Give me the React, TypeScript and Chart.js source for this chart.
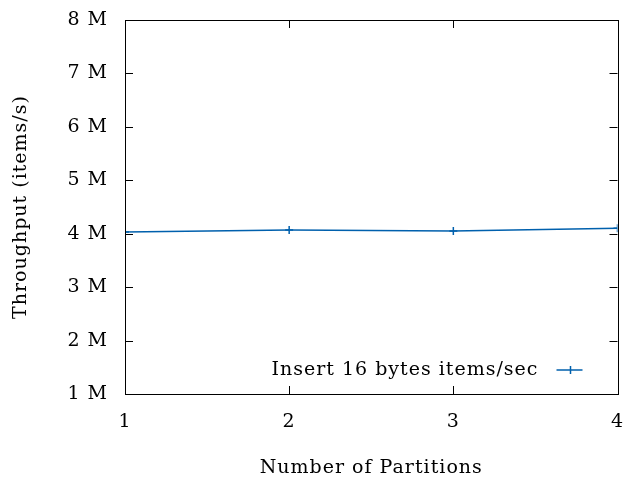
import React, { useEffect, useRef } from "react";
import { Chart, registerables } from "chart.js";

Chart.register(...registerables);

const partitions = [1, 2, 3, 4];
const throughput = [4.03e6, 4.07e6, 4.05e6, 4.1e6];
const yTickValues = [1e6, 2e6, 3e6, 4e6, 5e6, 6e6, 7e6, 8e6];
const yTickLabels = ["1 M", "2 M", "3 M", "4 M", "5 M", "6 M", "7 M", "8 M"];
const xTickValues = [1, 2, 3, 4];
const seriesLabel = "Insert 16 bytes items/sec";
const xTitle = "Number of Partitions";
const yTitle = "Throughput (items/s)";

const FONT = "'DejaVu Serif', 'Liberation Serif', serif";
const FONT_SIZE = 19;
const LETTER_SPACING = "1px";
const COLOR = "#0060ad";

const spacingPlugin = {
  id: "spacing",
  beforeInit(chart: any) {
    chart.ctx.letterSpacing = LETTER_SPACING;
  },
  beforeUpdate(chart: any) {
    chart.ctx.letterSpacing = LETTER_SPACING;
  },
  beforeDraw(chart: any) {
    chart.ctx.letterSpacing = LETTER_SPACING;
  },
};

const framePlugin = {
  id: "gnuframe",
  afterDraw(chart: any) {
    const { ctx, chartArea } = chart;
    const { left, right, top, bottom } = chartArea;
    const xs = chart.scales.x;
    const ys = chart.scales.y;
    ctx.save();
    ctx.strokeStyle = "#000";
    ctx.lineWidth = 1;
    ctx.beginPath();
    const L = 8;
    yTickValues.forEach((v) => {
      const py = Math.round(ys.getPixelForValue(v)) + 0.5;
      ctx.moveTo(left, py);
      ctx.lineTo(left + L, py);
      ctx.moveTo(right, py);
      ctx.lineTo(right - L, py);
    });
    xTickValues.forEach((v) => {
      const px = Math.round(xs.getPixelForValue(v)) + 0.5;
      ctx.moveTo(px, bottom);
      ctx.lineTo(px, bottom - L);
      ctx.moveTo(px, top);
      ctx.lineTo(px, top + L);
    });
    ctx.stroke();
    ctx.strokeRect(Math.round(left) + 0.5, Math.round(top) + 0.5, Math.round(right - left), Math.round(bottom - top));
    // legend
    ctx.letterSpacing = LETTER_SPACING;
    ctx.font = FONT_SIZE + "px " + FONT;
    ctx.fillStyle = "#000";
    ctx.textAlign = "right";
    ctx.textBaseline = "middle";
    const ly = bottom - 24;
    ctx.fillText(seriesLabel, right - 79, ly);
    ctx.strokeStyle = COLOR;
    ctx.lineWidth = 1.5;
    ctx.beginPath();
    ctx.moveTo(right - 61, ly);
    ctx.lineTo(right - 35, ly);
    const cx = right - 47;
    ctx.moveTo(cx - 4, ly);
    ctx.lineTo(cx + 4, ly);
    ctx.moveTo(cx, ly - 4);
    ctx.lineTo(cx, ly + 4);
    ctx.stroke();
    ctx.restore();
  },
};

export default function App() {
  const ref = useRef<HTMLCanvasElement | null>(null);
  useEffect(() => {
    if (!ref.current) return;
    const chart = new Chart(ref.current, {
      type: "line",
      data: {
        datasets: [
          {
            label: seriesLabel,
            data: partitions.map((p, i) => ({ x: p, y: throughput[i] })),
            borderColor: COLOR,
            backgroundColor: COLOR,
            borderWidth: 1.5,
            pointStyle: "cross",
            pointRadius: 4,
            pointBorderWidth: 1.5,
            tension: 0,
          },
        ],
      },
      options: {
        animation: false,
        responsive: false,
        maintainAspectRatio: false,
        layout: { padding: { left: 0, top: 20, right: 5, bottom: 0 } },
        plugins: { legend: { display: false }, tooltip: { enabled: false } },
        scales: {
          x: {
            type: "linear",
            min: 1,
            max: 4,
            border: { display: false },
            grid: { display: false, drawTicks: false },
            afterBuildTicks: (s: any) => {
              s.ticks = xTickValues.map((v) => ({ value: v }));
            },
            afterFit: (s: any) => {
              s.height = 85;
              s.paddingLeft = 0;
              s.paddingRight = 0;
            },
            ticks: {
              padding: 17,
              color: "#000",
              font: { family: FONT, size: FONT_SIZE },
              callback: (v: any) => String(v),
            },
            title: {
              display: true,
              text: xTitle,
              color: "#000",
              font: { family: FONT, size: FONT_SIZE },
              padding: { top: 14, bottom: 0 },
            },
          },
          y: {
            type: "linear",
            min: 1e6,
            max: 8e6,
            border: { display: false },
            grid: { display: false, drawTicks: false },
            afterBuildTicks: (s: any) => {
              s.ticks = yTickValues.map((v) => ({ value: v }));
            },
            afterFit: (s: any) => {
              s.width = 125;
              s.paddingTop = 0;
              s.paddingBottom = 0;
            },
            ticks: {
              padding: 17,
              color: "#000",
              font: { family: FONT, size: FONT_SIZE },
              callback: (v: any) => yTickLabels[yTickValues.indexOf(Number(v))] ?? "",
            },
            title: {
              display: true,
              text: yTitle,
              color: "#000",
              font: { family: FONT, size: FONT_SIZE },
              padding: { top: 10, bottom: 0 },
            },
          },
        },
      },
      plugins: [spacingPlugin, framePlugin],
    });
    return () => chart.destroy();
  }, []);
  return (
    <div style={{ position: "fixed", left: 0, top: 0, width: 623, height: 479, background: "#fff" }}>
      <canvas ref={ref} width={623} height={479} style={{ width: 623, height: 479 }} />
    </div>
  );
}
